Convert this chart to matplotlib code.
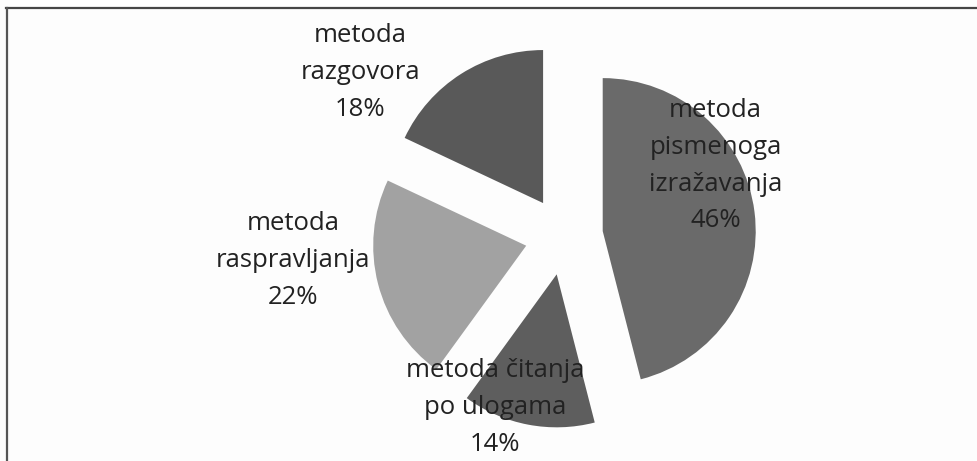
import matplotlib
matplotlib.use("Agg")
import matplotlib.pyplot as plt
from matplotlib.lines import Line2D

# udio metoda (u postocima), redom u smjeru kazaljke od vrha
metode = ["metoda\npismenoga\nizražavanja", "metoda čitanja\npo ulogama",
          "metoda\nraspravljanja", "metoda\nrazgovora"]
udjeli = [46, 14, 22, 18]
boje = ["#6a6a6a", "#5e5e5e", "#a2a2a2", "#595959"]

# gdje stoje natpisi, u polumjerima od središta kruga
pozicije_natpisa = [(0.99, 0.46), (-0.45, -1.12), (-1.77, -0.16), (-1.33, 1.07)]

W, H = 977, 461
fig = plt.figure(figsize=(W / 100, H / 100), dpi=100)
fig.patch.set_facecolor("#fdfdfd")

# os u jedinicama polumjera: središte na (564, 236) px, polumjer 153 px
r_px, cx, cy = 153, 564, 236
ax = fig.add_axes([0, 0, 1, 1])
ax.axis("off")

ax.pie(udjeli, colors=boje, startangle=90, counterclock=False,
       explode=[0.255] * len(udjeli), radius=1, center=(0, 0),
       wedgeprops=dict(linewidth=0), frame=False)
ax.set_xlim(-cx / r_px, (W - cx) / r_px)
ax.set_ylim(-(H - cy) / r_px, cy / r_px)
ax.set_aspect("auto")

for naziv, udio, (px, py) in zip(metode, udjeli, pozicije_natpisa):
    ax.text(px, py, f"{naziv}\n{udio}%", ha="center", va="center",
            fontsize=18.5, family="Open Sans", color="#222222",
            linespacing=1.62)

# okvir: samo gornja i lijeva crta
fig.add_artist(Line2D([6 / W, 1], [1 - 8.5 / H, 1 - 8.5 / H],
                      transform=fig.transFigure, color="#444444", lw=1.6))
fig.add_artist(Line2D([6.5 / W, 6.5 / W], [0, 1 - 8.5 / H],
                      transform=fig.transFigure, color="#555555", lw=1.6))

fig.savefig("out.png", dpi=100, facecolor=fig.get_facecolor())
